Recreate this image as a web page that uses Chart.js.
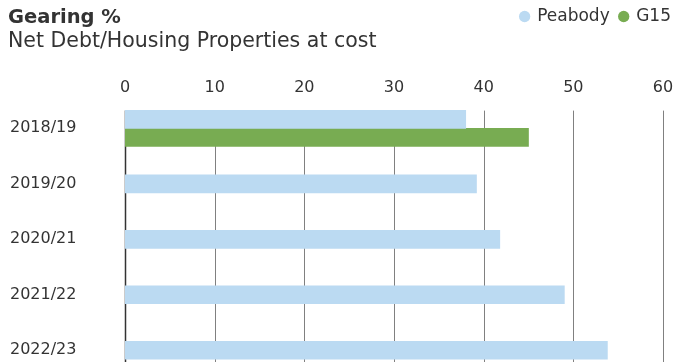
<!DOCTYPE html>
<html>
<head>
<meta charset="utf-8">
<script src="https://cdn.jsdelivr.net/npm/chart.js@4"></script>
<style>
  html, body { margin: 0; padding: 0; background: #fff; overflow: hidden; }
  #wrap { position: relative; width: 688px; height: 378px; }
  .title { position: absolute; left: 8px; color: #333; font-family: "DejaVu Sans", sans-serif; white-space: nowrap; line-height: 1; }
  #t1 { top: 7px; font-size: 19.5px; font-weight: bold; }
  #t2 { top: 30px; font-size: 20.5px; }
</style>
</head>
<body>
<div id="wrap">
  <canvas id="gearing" width="688" height="378"></canvas>
  <div class="title" id="t1">Gearing %</div>
  <div class="title" id="t2">Net Debt/Housing Properties at cost</div>
</div>
<script>
const years = ['2018/19', '2019/20', '2020/21', '2021/22', '2022/23'];
const peabody = [38.0, 39.2, 41.8, 49.0, 53.8];
const g15 = [45.0, null, null, null, null];
const xTicks = [0, 10, 20, 30, 40, 50, 60];

// vertical grid lines start at the first bar, not at the top of the plot area
const gridLines = {
    id: 'gridLines',
    beforeDatasetsDraw(chart) {
        const {ctx, chartArea, scales} = chart;
        const top = chartArea.top + 10;
        ctx.save();
        xTicks.forEach(t => {
            const x = Math.round(scales.x.getPixelForValue(t)) + 0.5;
            ctx.strokeStyle = t === 0 ? '#333' : '#808080';
            ctx.lineWidth = t === 0 ? 1.5 : 1;
            ctx.beginPath();
            ctx.moveTo(x, top);
            ctx.lineTo(x, chartArea.bottom);
            ctx.stroke();
        });
        ctx.restore();
    }
};

const ctx = document.getElementById('gearing').getContext('2d');
const font = { family: 'DejaVu Sans', size: 16 };

new Chart(ctx, {
    type: 'bar',
    data: {
        labels: years,
        datasets: [{
            label: 'Peabody',
            data: peabody,
            backgroundColor: '#bbdaf2'
        }, {
            label: 'G15',
            data: g15,
            backgroundColor: '#78ac52'
        }]
    },
    plugins: [gridLines],
    options: {
        indexAxis: 'y',
        responsive: false,
        animation: false,
        skipNull: true,
        barThickness: 18,
        layout: { padding: { left: 10, right: 7, top: -2, bottom: 0 } },
        scales: {
            x: {
                position: 'top',
                min: 0,
                max: 60,
                afterBuildTicks: s => { s.ticks = xTicks.map(v => ({ value: v })); },
                afterFit: s => { s.height = 65.6; s.paddingRight = 25; },
                grid: { display: false, drawTicks: false },
                border: { display: false },
                ticks: { padding: 3, color: '#333', font: font }
            },
            y: {
                afterFit: s => { s.width = 115; s.paddingTop = 0; s.paddingBottom = 0; },
                grid: { display: false, drawTicks: false },
                border: { display: false },
                ticks: { crossAlign: 'far', color: '#333', font: font }
            }
        },
        plugins: {
            legend: {
                align: 'end',
                labels: {
                    usePointStyle: true,
                    pointStyle: 'circle',
                    boxWidth: 8,
                    boxHeight: 8,
                    padding: 10,
                    color: '#333',
                    font: { family: 'DejaVu Sans', size: 17 }
                }
            },
            tooltip: { enabled: false }
        }
    }
});
</script>
</body>
</html>
